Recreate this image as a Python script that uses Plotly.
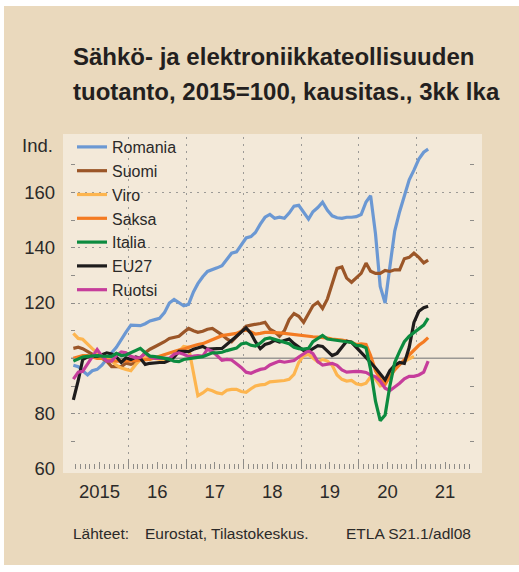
import pandas as pd
import plotly.graph_objects as go

# ---------------- data (3-month moving average, 2015=100) ----------------
start_month = "2015-01-01"
romania = [97.5, 97, 95.5, 94, 95.5, 96, 97.5, 100, 102, 104, 107, 109.5,
           112, 112, 111.8, 112.5, 113.5, 114, 114.5, 116.5, 120, 121.3, 120, 119,
           119.5, 124, 127, 129.5, 131.4, 132, 132.7, 133.5, 136, 138, 138.5, 141,
           143.5, 144, 145.5, 148.5, 151, 152, 150.6, 151, 150.6, 152.5, 155, 155.3,
           153, 150.3, 153, 154.5, 156.4, 153.5, 151.5, 150.8, 150.6, 151, 151, 151.2,
           152, 156.5, 158.8, 145, 126, 120, 133, 146, 153, 158.5, 164.5, 168, 172, 174.5, 175.6]
suomi = [103.6, 104, 103.5, 102.5, 101.5, 101, 100, 99, 97, 97, 97, 98.2,
         97.8, 98.5, 100, 102, 103.3, 104.2, 105, 106, 107.2, 107.6, 108, 109.4,
         110.8, 110, 109.4, 109.8, 110.5, 110.8, 109.8, 108.5, 107, 106, 107.8, 109.8,
         111.6, 112, 112.2, 112.6, 113, 110.5, 109.6, 108, 110, 114, 116.2, 115.2,
         113, 116, 119, 120.3, 118, 121.5, 127, 132.5, 133, 129, 127.5, 129,
         130.7, 134.4, 131.5, 130.7, 130.7, 131.8, 131.4, 132, 132, 136, 136.5, 138, 136.5, 134.5, 135.5]
viro = [109, 107.2, 106.9, 105, 103.5, 102, 101.2, 100, 99, 97.5, 96.5, 96,
        95.5, 97.8, 99.5, 100.2, 100.4, 100, 99.6, 99.6, 100, 100.7, 102.5, 104.3,
        104, 95, 86.5, 87.5, 88.8, 88.3, 87.5, 87.2, 88.5, 88.8, 88.8, 88,
        87.7, 89, 90, 90.4, 90.6, 91.5, 91.7, 91.7, 92, 92.4, 94.2, 98.5,
        101, 101.4, 100.2, 98.7, 99.6, 99, 97.5, 94, 92.4, 91.8, 92, 90.8,
        90.4, 91, 93.3, 92.5, 90, 90.5, 94, 96.3, 98, 99, 99.8, 100.7]
saksa = [100, 100.5, 101, 101, 100.5, 100, 100, 99.5, 99.3, 99, 99, 99,
         99, 99.2, 99.4, 99.6, 99.6, 100.2, 100.8, 101.5, 102, 102.5, 103, 103.3,
         104, 104.6, 105, 105.3, 106, 106.5, 107.3, 108.2, 108.5, 108.7, 109, 109.8,
         110.3, 109.5, 108.8, 109, 109.4, 109.4, 109.4, 109.2, 109, 108.8, 108.7, 108.3,
         108, 107.9, 107.8, 107.7, 107.6, 107.3, 107, 106.9, 106.6, 106.2, 105.8, 105,
         105.2, 105, 101, 95.5, 92.5, 90.8, 93.5, 95.8, 97.7, 99.5, 101.4, 103.2, 104.7, 106, 107.5]
italia = [99, 99.8, 100.5, 100.7, 100.8, 101, 100.8, 100.7, 100.7, 101.8, 101, 101.2,
          102, 103, 103.6, 102, 100.8, 100.6, 100.4, 100.2, 99.7, 99, 98.8, 99.6,
          99.8, 100, 100.2, 100.6, 101.3, 102, 102, 102.2, 102.8, 103.3, 103.7, 105.2,
          105.6, 104.7, 104.4, 105.5, 107, 107.4, 106.9, 106.5, 106, 105.3, 104, 103.5,
          103.3, 103.6, 106, 107.3, 108.3, 107, 106.7, 106.5, 106.2, 106, 105.8, 104.7,
          104.5, 103.8, 96, 84.5, 77.5, 79.5, 90, 98.5, 102.5, 106, 108, 109.2, 110.5, 112, 114.5]
eu27 = [85, 92, 99.5, 100.5, 100.7, 100.7, 101.3, 102, 101.6, 100.5, 98.5, 100.2,
        99.6, 100.5, 100, 97.8, 98.2, 98.5, 98.5, 98.5, 99.3, 100.5, 102.5, 102.5,
        102.4, 103.3, 103.8, 104.3, 103.3, 103.3, 103.5, 103.6, 105, 106.5, 108, 109.5,
        111, 109, 106, 103.5, 105, 105.5, 106.5, 105.9, 106.5, 107, 105.3, 104,
        102.8, 102.5, 103.5, 104.6, 104.3, 102.5, 101, 101.8, 104.2, 106.2, 105.8, 104,
        102.5, 100.5, 98.5, 96.5, 94.5, 92.2, 95.5, 97.5, 98.5, 98.2, 104, 113, 117, 118.3, 118.8]
ruotsi = [92.5, 95, 95.3, 98, 100.5, 103.2, 100.8, 99, 99, 101, 102.3, 102,
          100.7, 100.2, 100.3, 101.8, 100.5, 100, 100, 100, 100, 101.5, 102, 101.5,
          100.7, 100.8, 101, 100.8, 103.3, 102.5, 100.8, 99.3, 99.6, 99.4, 98, 96.7,
          95, 94.6, 95.3, 96, 96.3, 97.6, 98.3, 99, 98.6, 98.9, 99.2, 100.5,
          101.8, 102.8, 101.7, 98.8, 97.6, 97.8, 98.2, 97.5, 95.8, 95, 95.2, 95.3,
          95.2, 94.9, 94, 93.3, 91.7, 89.2, 88.3, 89.5, 91, 92.6, 93.5, 93.5, 94, 95, 99]

series_names = ["Romania", "Suomi", "Viro", "Saksa", "Italia", "EU27", "Ruotsi"]
series_values = [romania, suomi, viro, saksa, italia, eu27, ruotsi]
series_colors = ["#6B98D3", "#9B5628", "#FDB54F", "#F47B22", "#0C8B3F", "#1E1C1C", "#C63D9B"]
# which overlay axis pair carries each trace (all share identical ranges)
series_axes = [("x", "y"), ("x", "y"), ("x", "y"), ("x", "y"), ("x2", "y"), ("x", "y"), ("x", "y2")]

base_level = 100
year_labels = ["2015", "16", "17", "18", "19", "20", "21"]
y_tick_vals = [60, 80, 100, 120, 140, 160]
y_grid_vals = [80, 120, 140, 160]
y_minor_vals = [60, 70, 90, 100, 110, 130, 150, 170]
y_range = [60, 180]

title_1 = "Sähkö- ja elektroniikkateollisuuden"
title_2 = "tuotanto, 2015=100, kausitas., 3kk lka"
source_label = "Lähteet:"
source_text = "Eurostat, Tilastokeskus."
code_text = "ETLA S21.1/adl08"

# ---------------- figure ----------------
months = pd.date_range(start_month, periods=max(len(v) for v in series_values), freq="MS") + pd.Timedelta(days=15)
year_starts = pd.date_range("2016-01-01", "2021-01-01", freq="YS")
mid_years = pd.date_range("2015-07-01", "2021-07-01", freq="12MS")
month_ticks = pd.date_range("2015-02-01", "2021-12-01", freq="MS")
x_range = ["2015-01-01", "2022-01-01"]

FONT = "Liberation Sans, Arial, sans-serif"
GRID = "#9C9A96"
TICK = "#8E8C88"
TXT = "#2B2A29"

fig = go.Figure()
for name, vals, col, (xa, ya) in zip(series_names, series_values, series_colors, series_axes):
    fig.add_trace(go.Scatter(
        x=months[:len(vals)], y=vals, name=name, mode="lines", xaxis=xa, yaxis=ya,
        line=dict(color=col, width=3.2), hoverinfo="skip"))

W, H = 519, 572
L, R, T, B = 71, 45, 137, 103
pw, ph = W - L - R, H - T - B


def px_x(p):
    return (p - L) / pw


def px_y(p):
    return (H - B - p) / ph


shapes = [
    dict(type="rect", xref="paper", yref="paper", x0=px_x(4), x1=px_x(519), y0=px_y(565), y1=px_y(6),
         fillcolor="#EAD9BD", line=dict(width=0), layer="below"),
    dict(type="rect", xref="paper", yref="paper", x0=px_x(63), x1=px_x(482), y0=px_y(473), y1=px_y(134),
         fillcolor="#F3E9D9", line=dict(width=0), layer="below"),
    dict(type="line", xref="paper", yref="y", x0=0, x1=1, y0=base_level, y1=base_level,
         line=dict(color="#9A9894", width=1.5), layer="below"),
]

fig.update_layout(
    width=W, height=H, autosize=False,
    margin=dict(l=L, r=R, t=T, b=B, pad=0),
    paper_bgcolor="white", plot_bgcolor="rgba(0,0,0,0)",
    font=dict(family=FONT, color=TXT, size=17),
    shapes=shapes,
    showlegend=True,
    legend=dict(x=px_x(72), y=px_y(130), xanchor="left", yanchor="top",
                bgcolor="rgba(0,0,0,0)", font=dict(size=16, color=TXT),
                tracegroupgap=0, itemwidth=30, traceorder="normal"),
    xaxis=dict(range=x_range, type="date", tickvals=list(year_starts), showticklabels=False,
               ticks="inside", ticklen=10, tickcolor=TICK, tickwidth=1,
               showgrid=True, gridcolor=GRID, gridwidth=1, griddash="2px,5px",
               zeroline=False, showline=False,
               minor=dict(tickvals=list(month_ticks), ticks="inside", ticklen=5,
                          tickcolor=TICK, tickwidth=1, showgrid=False)),
    xaxis2=dict(range=x_range, type="date", overlaying="x", anchor="y", side="bottom",
                tickvals=list(mid_years), ticktext=year_labels,
                ticks="inside", ticklen=7, tickcolor=TICK, tickwidth=1,
                showgrid=False, zeroline=False, showline=False,
                tickfont=dict(size=18.5, color=TXT), ticklabelstandoff=9),
    yaxis=dict(range=y_range, tickvals=y_grid_vals, showticklabels=False,
               ticks="inside", ticklen=4, tickcolor=TICK, tickwidth=1, mirror="ticks",
               showgrid=True, gridcolor=GRID, gridwidth=1, griddash="2px,5px",
               zeroline=False, showline=False,
               minor=dict(tickvals=y_minor_vals, ticks="inside", ticklen=4,
                          tickcolor=TICK, tickwidth=1, showgrid=False)),
    yaxis2=dict(range=y_range, overlaying="y", anchor="x", side="left",
                tickvals=y_tick_vals, ticktext=[str(v) for v in y_tick_vals],
                ticks="", showgrid=False, zeroline=False, showline=False,
                tickfont=dict(size=18.5, color=TXT), ticklabelstandoff=15),
)

annotations = [
    dict(text=f"<b>{title_1}</b>", x=px_x(71), y=px_y(56), xanchor="left", yanchor="middle",
         font=dict(size=24, color="#231F20")),
    dict(text=f"<b>{title_2}</b>", x=px_x(71), y=px_y(91), xanchor="left", yanchor="middle",
         font=dict(size=24, color="#231F20")),
    dict(text="Ind.", x=px_x(55), y=px_y(145), xanchor="right", yanchor="middle",
         font=dict(size=18.5, color=TXT)),
    dict(text=source_label, x=px_x(71), y=px_y(533), xanchor="left", yanchor="middle",
         font=dict(size=15.5, color=TXT)),
    dict(text=source_text, x=px_x(143), y=px_y(533), xanchor="left", yanchor="middle",
         font=dict(size=15.5, color=TXT)),
    dict(text=code_text, x=px_x(473), y=px_y(533), xanchor="right", yanchor="middle",
         font=dict(size=15.5, color=TXT)),
]
for a in annotations:
    a.update(xref="paper", yref="paper", showarrow=False)
fig.update_layout(annotations=annotations)

fig.write_html("out.html", config={"displayModeBar": False},
               post_script="document.body.style.margin='0px';")
